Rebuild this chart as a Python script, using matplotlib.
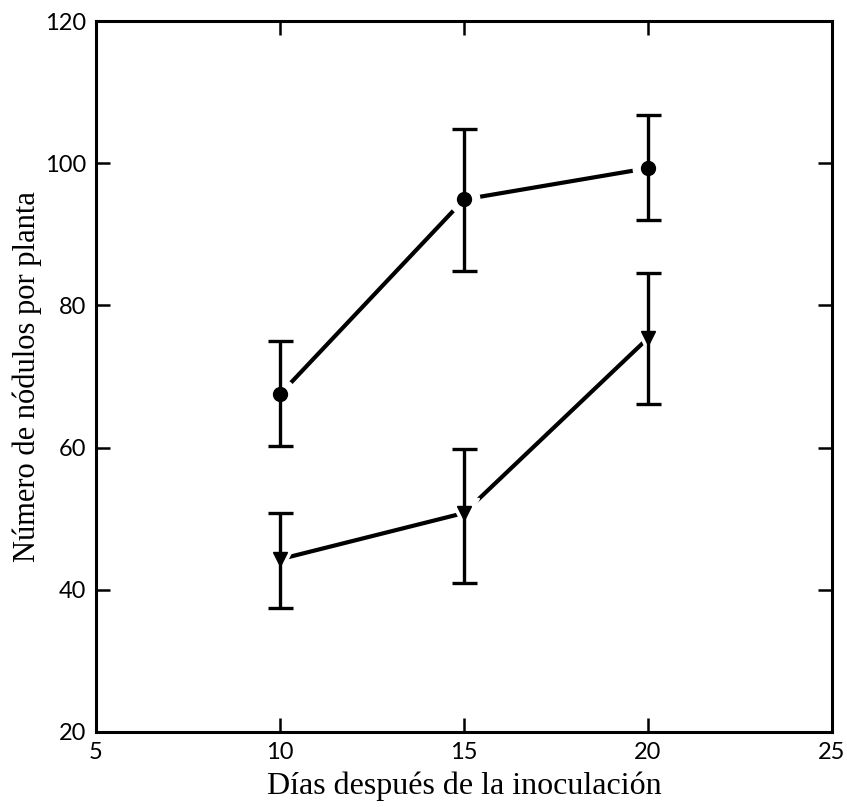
import matplotlib
matplotlib.use("Agg")
import matplotlib.pyplot as plt
import numpy as np

dias = [10, 15, 20]
circ_mean = [67.5, 94.9, 99.3]
circ_low = [60.2, 84.9, 92.0]
circ_high = [75.0, 104.8, 106.8]
tri_mean = [44.3, 50.8, 75.4]
tri_low = [37.5, 41.0, 66.2]
tri_high = [50.8, 59.8, 84.5]
xticks = [5, 10, 15, 20, 25]
yticks = [20, 40, 60, 80, 100, 120]

fig = plt.figure(figsize=(8.47, 8.07), dpi=100)
ax = fig.add_axes([96/847, 75/807, 736/847, 711/807])

for mean, low, high, mk in [(circ_mean, circ_low, circ_high, 'o'),
                            (tri_mean, tri_low, tri_high, 'v')]:
    mean = np.array(mean); low = np.array(low); high = np.array(high)
    ax.plot(dias, mean, '-', color='black', lw=3.0, zorder=2)
    ax.plot(dias, mean, mk, color='white', ms=22, mec='white', zorder=3)
    ax.errorbar(dias, mean, yerr=[mean - low, high - mean], fmt='none',
                ecolor='black', elinewidth=2.4, capsize=9, capthick=2.4, zorder=4)
    ax.plot(dias, mean, mk, color='black', ms=10, zorder=5)

ax.set_xlim(5, 25)
ax.set_ylim(20, 120)
ax.set_xticks(xticks)
ax.set_yticks(yticks)
for s in ax.spines.values():
    s.set_linewidth(2.2)
ax.tick_params(direction='in', length=10, width=1.8, top=True, right=True,
               labelsize=17, pad=7)
for lab in ax.get_xticklabels() + ax.get_yticklabels():
    lab.set_family('Lato')

ax.set_xlabel('Días después de la inoculación', family='Liberation Serif',
              fontsize=23, labelpad=6)
ax.set_ylabel('Número de nódulos por planta', family='Liberation Serif',
              fontsize=22, labelpad=2)

fig.savefig('out.png', dpi=100)
